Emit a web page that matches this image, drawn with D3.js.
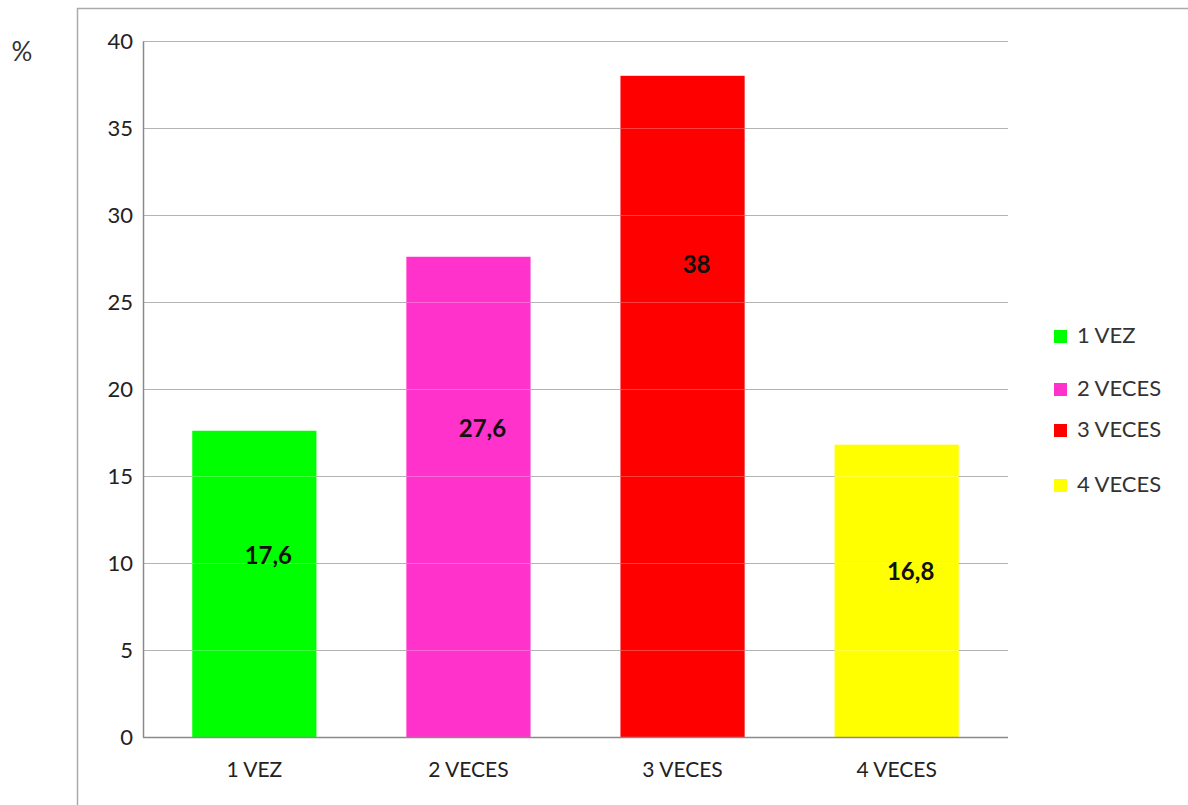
<!DOCTYPE html>
<html>
<head>
<meta charset="utf-8">
<script src="https://cdn.jsdelivr.net/npm/d3@7"></script>
<style>
  body { margin: 0; background: #fff; }
  text { font-family: Lato, "Open Sans", sans-serif; fill: #222; }
</style>
</head>
<body>
<svg id="chart" width="1188" height="805"></svg>
<script>
// data
const categories = ["1 VEZ", "2 VECES", "3 VECES", "4 VECES"]
const values = [17.6, 27.6, 38, 16.8]
const valueLabels = ["17,6", "27,6", "38", "16,8"]
const labelLevels = [10.3, 17.6, 27, 9.4]   // where the value text sits, in %
const colors = ["#00ff00", "#ff33cc", "#ff0000", "#ffff00"]
const yTicks = [0, 5, 10, 15, 20, 25, 30, 35, 40]

const width = 1188
const height = 805
const margin = { left: 143, right: 180, top: 41, bottom: 68 }

const svg = d3.select("#chart")

// outer frame
svg.append("rect")
  .attr("x", 77.5).attr("y", 8.5)
  .attr("width", 1120).attr("height", 820)
  .attr("fill", "none")
  .attr("stroke", "#aaa")
  .attr("stroke-width", 1.5)

const x = d3.scaleBand()
  .domain(categories)
  .range([margin.left, width - margin.right])
  .paddingInner(0.42)
  .paddingOuter(0.23)

const y = d3.scaleLinear()
  .domain([0, 40])
  .range([height - margin.bottom, margin.top])

// gridlines
svg.append("g")
  .selectAll("line")
  .data(yTicks.filter(d => d > 0))
  .enter()
  .append("line")
  .attr("x1", margin.left).attr("x2", width - margin.right)
  .attr("y1", d => y(d) + 0.5).attr("y2", d => y(d) + 0.5)
  .attr("stroke", "#9a9a9a")
  .attr("stroke-width", 1.2)

// bars
svg.append("g")
  .selectAll("rect")
  .data(values)
  .enter()
  .append("rect")
  .attr("x", (d, i) => x(categories[i]))
  .attr("y", d => y(d))
  .attr("width", x.bandwidth())
  .attr("height", d => y(0) - y(d))
  .attr("fill", (d, i) => colors[i])

// faint grid showing through bars
svg.append("g")
  .selectAll("line")
  .data(yTicks.filter(d => d > 0))
  .enter()
  .append("line")
  .attr("x1", margin.left).attr("x2", width - margin.right)
  .attr("y1", d => y(d) + 0.5).attr("y2", d => y(d) + 0.5)
  .attr("stroke", "#fff")
  .attr("stroke-opacity", 0.25)

// y axis
const yAxis = svg.append("g")
  .attr("transform", `translate(${margin.left},0)`)
  .call(d3.axisLeft(y).tickValues(yTicks).tickSize(0).tickPadding(10))
yAxis.select(".domain").attr("stroke", "#8a8a8a").attr("stroke-width", 1.5)
yAxis.selectAll("text")
  .style("font-size", "22px")
  .style("font-family", "Lato, sans-serif")
  .attr("fill", "#333")

// x axis
const xAxis = svg.append("g")
  .attr("transform", `translate(0,${y(0)})`)
  .call(d3.axisBottom(x).tickSize(0).tickPadding(25))
xAxis.select(".domain")
  .attr("d", `M${margin.left},0.5H${width - margin.right}`)
  .attr("stroke", "#8a8a8a").attr("stroke-width", 1.5)
xAxis.selectAll("text")
  .style("font-size", "21px")
  .style("font-family", "Lato, sans-serif")
  .attr("fill", "#333")

// value labels
svg.append("g")
  .selectAll("text")
  .data(valueLabels)
  .enter()
  .append("text")
  .attr("x", (d, i) => x(categories[i]) + x.bandwidth() / 2 + 14)
  .attr("y", (d, i) => y(labelLevels[i]))
  .attr("text-anchor", "middle")
  .attr("dominant-baseline", "middle")
  .style("font-size", "24px")
  .style("font-weight", "bold")
  .style("fill", "#111")
  .text(d => d)

// unit label
svg.append("text")
  .attr("x", 22).attr("y", 61)
  .attr("text-anchor", "middle")
  .style("font-size", "26px")
  .style("fill", "#333")
  .text("%")

// legend
const legendRows = [343, 396, 437, 492]
const legend = svg.append("g")
  .selectAll("g")
  .data(categories)
  .enter()
  .append("g")
  .attr("transform", (d, i) => `translate(1054,${legendRows[i]})`)
legend.append("rect")
  .attr("x", 0).attr("y", -13)
  .attr("width", 13).attr("height", 13)
  .attr("fill", (d, i) => colors[i])
legend.append("text")
  .attr("x", 23).attr("y", 0)
  .style("font-size", "22px")
  .style("fill", "#333")
  .text(d => d)
</script>
</body>
</html>
